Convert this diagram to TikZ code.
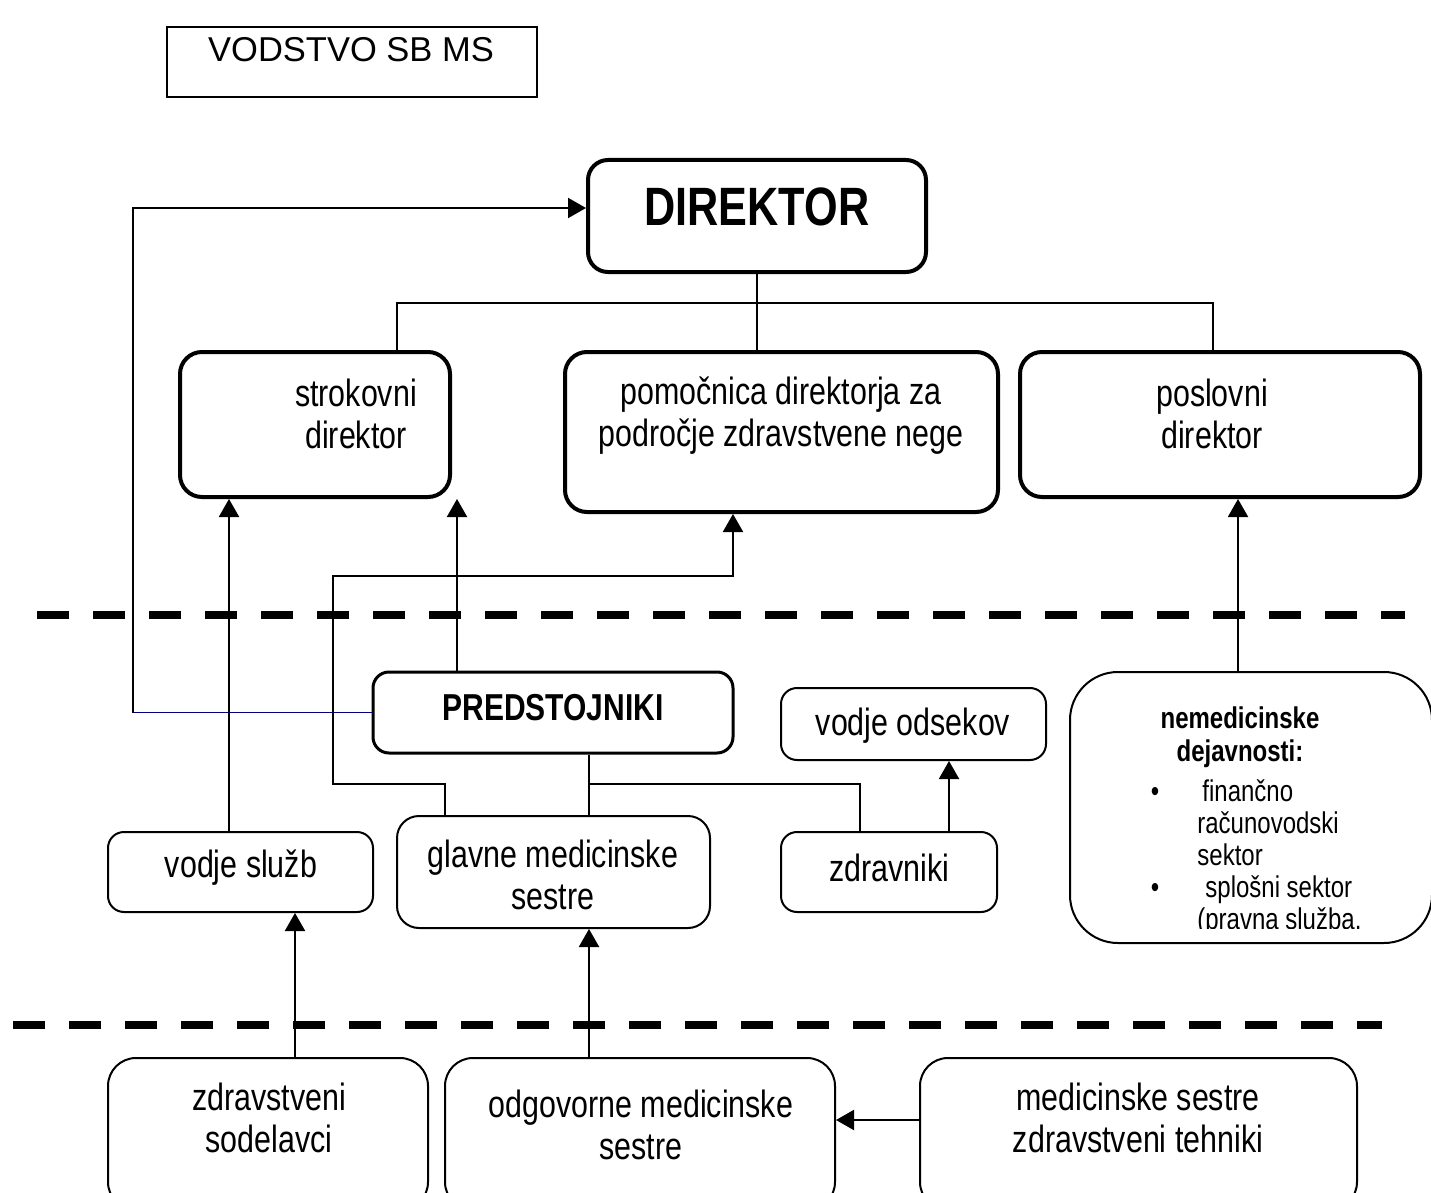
\documentclass[tikz,border=0pt]{standalone}
\usepackage{fontspec}
\setmainfont{Liberation Sans}
\newfontfamily\chartfont[FakeStretch=0.8]{Liberation Sans}
\usetikzlibrary{arrows.meta}
\definecolor{navyline}{RGB}{0,0,128}

\begin{document}
\begin{tikzpicture}[x=0.5pt,y=-0.5pt,
  sz/.style 2 args={minimum width=#1*0.5pt, minimum height=#2*0.5pt, inner sep=0pt},
  heavy/.style={draw, line width=2pt, rounded corners=11pt},
  light/.style={draw, line width=1pt, rounded corners=#1},
  light/.default=8pt,
  conn/.style={line width=1pt},
  arr/.style={conn, -{Triangle[length=9pt,width=10pt]}},
  txt/.style={font=\chartfont\fontsize{19pt}{21pt}\selectfont, align=center, inner sep=0pt},
  nemb/.style={font=\chartfont\bfseries\fontsize{15pt}{16.5pt}\selectfont, inner sep=0pt},
  nemr/.style={font=\chartfont\fontsize{15pt}{16.5pt}\selectfont, inner sep=0pt},
  sepline/.style={line width=4pt, dash pattern=on 16pt off 12pt}]

\useasboundingbox (0,0) rectangle (1431,1193);
\clip (0,0) rectangle (1431,1193);

% heading
\node[draw, line width=0.75pt, sz={370}{70}] (lead) at (352,62) {};
\node[font=\fontsize{17.25pt}{20pt}\selectfont, inner sep=0pt] (leadT) at (351,50) {VODSTVO SB MS};

% management level
\node[heavy, rounded corners=10pt, sz={338}{112}] (dir) at (757,216) {};
\node[font=\chartfont\bfseries\fontsize{27pt}{30pt}\selectfont, inner sep=0pt] (dirT) at (757,207) {DIREKTOR};

\node[heavy, sz={270}{145}] (strok) at (315,424.5) {};
\node[txt] (strokT) at (356,414) {strokovni\\direktor};
\node[heavy, sz={433}{160}] (pom) at (781.5,432) {};
\node[txt] (pomT) at (781,416) {pomočnica direktorja za\\področje zdravstvene nege};
\node[heavy, sz={400}{145}] (posl) at (1220,424.5) {};
\node[txt] (poslT) at (1212,414) {poslovni\\direktor};

% middle level
\node[draw, line width=1.5pt, rounded corners=8pt, sz={360}{81}] (pred) at (553,712.5) {};
\node[txt, font=\chartfont\bfseries\fontsize{18.75pt}{21pt}\selectfont] (predT) at (553,708) {PREDSTOJNIKI};
\node[light, sz={265}{72}] (odsek) at (913.5,724) {};
\node[txt] (odsekT) at (913,726) {vodje odsekov};
\node[light=24pt, sz={362}{271}] (nemed) at (1251,807.5) {};

\begin{scope}
  \clip (1070,672) rectangle (1432,928);
  \node[nemb, anchor=base] (nemA) at (1240,728) {nemedicinske};
  \node[nemb, anchor=base] (nemB) at (1240,761) {dejavnosti:};
  \node[nemr, anchor=base] (bulA) at (1155,801) {•};
  \node[nemr, anchor=base west] (nemC) at (1202,801) {finančno};
  \node[nemr, anchor=base west] (nemD) at (1197,833) {računovodski};
  \node[nemr, anchor=base west] (nemE) at (1197,865) {sektor};
  \node[nemr, anchor=base] (bulB) at (1155,897) {•};
  \node[nemr, anchor=base west] (nemF) at (1205,897) {splošni sektor};
  \node[nemr, anchor=base west] (nemG) at (1197,929) {(pravna služba,};
\end{scope}

\node[light, sz={265}{80}] (sluz) at (240.5,872) {};
\node[txt] (sluzT) at (241,868) {vodje služb};
\node[light=11pt, sz={313}{112}] (glav) at (553.5,872) {};
\node[txt] (glavT) at (553,875) {glavne medicinske\\sestre};
\node[light, sz={216}{80}] (zdrav) at (889,872) {};
\node[txt] (zdravT) at (889,868) {zdravniki};

% lower level
\node[light=14pt, sz={320}{152}] (sodel) at (268,1134) {};
\node[txt] (sodelT) at (269,1118) {zdravstveni\\sodelavci};
\node[light=14pt, sz={390}{152}] (odgov) at (640,1134) {};
\node[txt] (odgovT) at (641,1125) {odgovorne medicinske\\sestre};
\node[light=14pt, sz={437}{152}] (mst) at (1138.5,1134) {};
\node[txt] (mstT) at (1138,1118) {medicinske sestre\\zdravstveni tehniki};

% level separators
\draw[sepline] (37,615) -- (1405,615);
\draw[sepline] (13,1024.5) -- (1382,1024.5);

% connectors
\coordinate (busL) at (397,303);
\coordinate (busR) at (1213,303);
\draw[conn] (dir.south) -- (pom.north -| dir.south);
\draw[conn] (strok.north -| busL) -- (busL) -- (busR) -- (posl.north -| busR);

\coordinate (kneeA) at (133,712.5);
\coordinate (kneeB) at (133,208);
\draw[navyline, line width=0.75pt] (pred.west) -- (kneeA);
\draw[arr] (kneeA) -- (kneeB) -- (kneeB -| dir.west);

\draw[arr] (sluz.north -| 229,0) -- (strok.south -| 229,0);
\draw[arr] (pred.north -| 457,0) -- (strok.south -| 457,0);
\draw[arr] (glav.north -| 445,0) |- (333,784) |- (733,576) -- (pom.south -| 733,0);

\coordinate (split) at (589,784);
\draw[conn] (pred.south -| split) -- (glav.north -| split);
\draw[conn] (split) -| (zdrav.north -| 860,0);
\draw[arr] (zdrav.north -| 949,0) -- (odsek.south -| 949,0);
\draw[arr] (nemed.north -| 1238,0) -- (posl.south -| 1238,0);

\draw[arr] (sodel.north -| 295,0) -- (sluz.south -| 295,0);
\draw[arr] (odgov.north -| 589,0) -- (glav.south -| 589,0);
\draw[arr] (mst.west |- 0,1120) -- (odgov.east |- 0,1120);
\end{tikzpicture}
\end{document}
